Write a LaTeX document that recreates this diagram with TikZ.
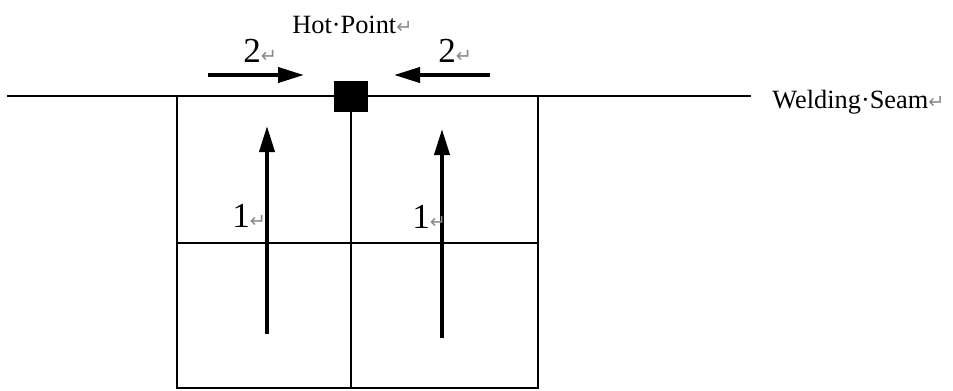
\documentclass[tikz,border=0pt]{standalone}
\usepackage{fontspec}
\setmainfont{Liberation Serif}
\newfontfamily\markfont{DejaVu Sans}
\usetikzlibrary{arrows.meta}
\definecolor{markcol}{HTML}{8A8A8A}
\newcommand{\retmark}{{\markfont\fontsize{11}{11}\selectfont\color{markcol}↵}}
\tikzset{
  % thin outline of the plate and the seam
  gridline/.style={line width=1.1pt, line cap=rect},
  % thick arrow = welding direction
  weldarrow/.style={line width=2.2pt, -{Triangle[length=0.52cm, width=0.3cm]}},
  % black square = hot point
  hotspot/.style={rectangle, fill=black, draw=none,
                  minimum width=0.68cm, minimum height=0.62cm, inner sep=0pt},
  % printed texts
  caption/.style={anchor=base west, inner sep=0pt,
                  font=\fontsize{15}{18}\selectfont},
  stepnum/.style={anchor=base west, inner sep=0pt,
                  font=\fontsize{20}{24}\selectfont},
}

\begin{document}
\begin{tikzpicture}[x=0.02cm, y=-0.02cm]
  \useasboundingbox (0,0) rectangle (953,390);
  % seam and plate
  \coordinate (seamL) at (8,96);
  \coordinate (seamR) at (750,96);
  \draw[gridline] (seamL) -- (seamR);
  \draw[gridline] (177,96) rectangle (538,388);
  \draw[gridline] (351,96) -- (351,388);
  \draw[gridline] (177,243) -- (538,243);
  \node[hotspot] (hot) at (351,96) {};

  % step 2: along the seam towards the hot point
  \coordinate (twoLs) at (208,75);
  \coordinate (twoLe) at (304,75);
  \coordinate (twoRs) at (490,75);
  \coordinate (twoRe) at (394,75);
  \draw[weldarrow] (twoLs) -- (twoLe);
  \draw[weldarrow] (twoRs) -- (twoRe);

  % step 1: upwards to the seam
  \coordinate (oneLs) at (267,334);
  \coordinate (oneLe) at (267,126);
  \coordinate (oneRs) at (442,338);
  \coordinate (oneRe) at (442,129);
  \draw[weldarrow] (oneLs) -- (oneLe);
  \draw[weldarrow] (oneRs) -- (oneRe);

  % labels
  \node[caption] (hotlabel) at (292,33) {Hot·Point\retmark};
  \node[caption] (seamlabel) at (772,108) {Welding·Seam\retmark};
  \node[stepnum] (twoL) at (243,62) {2\retmark};
  \node[stepnum] (twoR) at (438,62) {2\retmark};
  \node[stepnum] (oneL) at (232,227) {1\retmark};
  \node[stepnum] (oneR) at (412,228) {1\retmark};
\end{tikzpicture}
\end{document}
